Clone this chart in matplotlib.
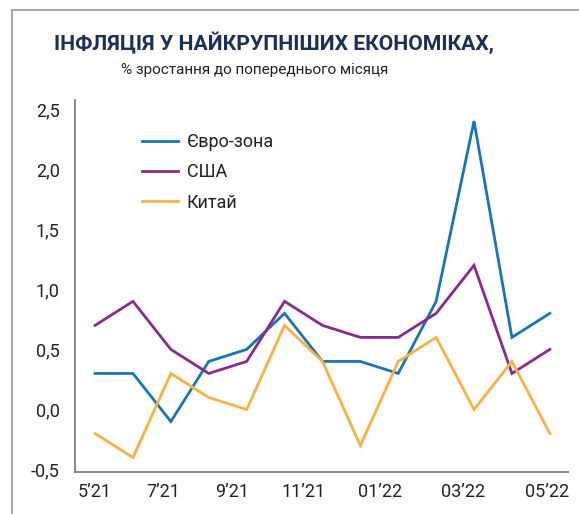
import matplotlib
matplotlib.use("Agg")
import matplotlib.pyplot as plt
from matplotlib.lines import Line2D

# monthly data, 5'21 .. 05'22
months = ["5'21", "6'21", "7'21", "8'21", "9'21", "10'21", "11'21",
          "12'21", "01'22", "02'22", "03'22", "04'22", "05'22"]
euro = [0.3, 0.3, -0.1, 0.4, 0.5, 0.8, 0.4, 0.4, 0.3, 0.9, 2.4, 0.6, 0.8]
usa = [0.7, 0.9, 0.5, 0.3, 0.4, 0.9, 0.7, 0.6, 0.6, 0.8, 1.2, 0.3, 0.5]
china = [-0.2, -0.4, 0.3, 0.1, 0.0, 0.7, 0.4, -0.3, 0.4, 0.6, 0.0, 0.4, -0.2]

series_names = ["Євро-зона", "США", "Китай"]
x_labels = ["5’21", "7’21", "9’21", "11’21", "01’22", "03’22", "05’22"]
y_ticks = [-0.5, 0.0, 0.5, 1.0, 1.5, 2.0, 2.5]

plt.rcParams['font.family'] = ['Roboto', 'DejaVu Sans']

fig = plt.figure(figsize=(5.79, 5.14), dpi=100)
ax = fig.add_axes([0.1295, 0.0817, 0.8515, 0.7237])

colors = ["#1675bb", "#8a2a8f", "#fbb040"]
x = list(range(len(months)))
for vals, name, c in zip([euro, usa, china], series_names, colors):
    ax.plot(x, vals, color=c, lw=2.0, label=name, solid_joinstyle='miter')

ax.set_xlim(-0.53, 12.48)
ax.set_ylim(-0.52, 2.575)

# label positions as drawn in the original (slightly off the data points)
tick_pos = [0, 1.79, 3.61, 5.49, 7.52, 9.71, 11.93]
ax.set_xticks(tick_pos)
ax.set_xticklabels(x_labels, fontsize=13, color="#222222")
ax.set_yticks(y_ticks)
ax.set_yticklabels([f"{v:.1f}".replace('.', ',') for v in y_ticks],
                   fontsize=13, color="#222222")
ax.tick_params(length=0, pad=11)
ax.tick_params(axis='x', pad=8)

for s in ["top", "right"]:
    ax.spines[s].set_visible(False)
for s in ["left", "bottom"]:
    ax.spines[s].set_color("#808080")
    ax.spines[s].set_linewidth(1.3)

ax.legend(loc="upper left", bbox_to_anchor=(0.102, 0.955), frameon=False,
          fontsize=13, handlelength=2.0, handletextpad=0.5,
          labelspacing=0.68, labelcolor="#222222")

# outer frame (top and left)
fig.add_artist(Line2D([12 / 579, 1], [1 - 10 / 514, 1 - 10 / 514],
                      color="#a0a0a0", lw=1.3))
fig.add_artist(Line2D([12 / 579, 12 / 579], [0, 1 - 10 / 514],
                      color="#a0a0a0", lw=1.3))

fig.text(0.473, 1 - 43 / 514, "ІНФЛЯЦІЯ У НАЙКРУПНІШИХ ЕКОНОМІКАХ,",
         ha="center", va="center", fontsize=15.2, fontweight="bold",
         color="#1b2f5b")
fig.text(0.439, 1 - 70 / 514, "% зростання до попереднього місяця",
         ha="center", va="center", fontsize=11, color="#222222")

fig.savefig("out.png", dpi=100)
